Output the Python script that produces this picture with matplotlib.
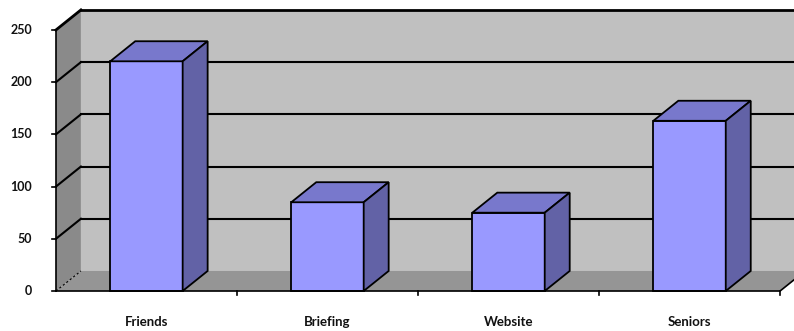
import matplotlib
matplotlib.use("Agg")
import matplotlib.pyplot as plt
from matplotlib.patches import Polygon

# Data
categories = ["Friends", "Briefing", "Website", "Seniors"]
values = [220, 85, 75, 163]
y_ticks = [0, 50, 100, 150, 200, 250]

# 3D look: depth offset in data units, bar width in category units
DX, DY = 0.138, 19.2
BAR_W = 0.4
YMAX = 250
n = len(categories)

fig = plt.figure(figsize=(7.94, 3.31), dpi=100)
ax = fig.add_axes([0, 0, 1, 1])
ax.set_xlim(-0.309, 4.077)
ax.set_ylim(-38.3, 278.7)
ax.axis("off")

def poly(pts, fc, ec="none", lw=0, z=1, **kw):
    ax.add_patch(Polygon(pts, closed=True, facecolor=fc, edgecolor=ec,
                         linewidth=lw, zorder=z, **kw))

# walls and floor
poly([(0, 0), (0, YMAX), (DX, YMAX + DY), (DX, DY)], "#8a8a8a", z=1)
poly([(DX, DY), (DX, YMAX + DY), (n + DX + 0.3, YMAX + DY), (n + DX + 0.3, DY)],
     "#c0c0c0", z=1)
poly([(0, 0), (n, 0), (n + DX, DY), (DX, DY)], "#959595", z=1)

# gridlines on back wall and left wall
for v in y_ticks[1:]:
    lw = 2.0 if v == YMAX else 1.5
    ax.plot([DX, n + DX + 0.3], [v + DY, v + DY], color="black", lw=lw, zorder=2)
    ax.plot([0, DX], [v, v + DY], color="black", lw=lw, zorder=2)
ax.plot([0, DX], [0, DY], color="black", lw=0.8, ls=(0, (2, 2)), zorder=2)

# bars
for i, v in enumerate(values):
    x0 = i + 0.5 - BAR_W / 2
    x1 = i + 0.5 + BAR_W / 2
    poly([(x0, 0), (x1, 0), (x1, v), (x0, v)], "#9999ff", "black", 1.3, z=4)
    poly([(x0, v), (x1, v), (x1 + DX, v + DY), (x0 + DX, v + DY)],
         "#7878cc", "black", 1.3, z=4)
    poly([(x1, 0), (x1 + DX, DY), (x1 + DX, v + DY), (x1, v)],
         "#6262a6", "black", 1.3, z=4)

# axes lines and ticks
ax.plot([0, 0], [0, YMAX], color="black", lw=1.2, zorder=5)
ax.plot([0, n, n + DX], [0, 0, DY], color="black", lw=1.2, zorder=5)
for v in y_ticks:
    ax.plot([-0.022, 0], [v, v], color="black", lw=1.2, zorder=5)
    ax.text(-0.133, v, str(v), ha="right", va="center", fontsize=9,
            fontweight="bold", family="Lato", color="#111111")
for i in range(1, n + 1):
    ax.plot([i, i], [0, -4], color="black", lw=1.2, zorder=5)
for i, c in enumerate(categories):
    ax.text(i + 0.5, -29.7, c, ha="center", va="center", fontsize=9.5,
            fontweight="bold", family="Lato", color="#111111")

fig.savefig("out.png", dpi=100)
